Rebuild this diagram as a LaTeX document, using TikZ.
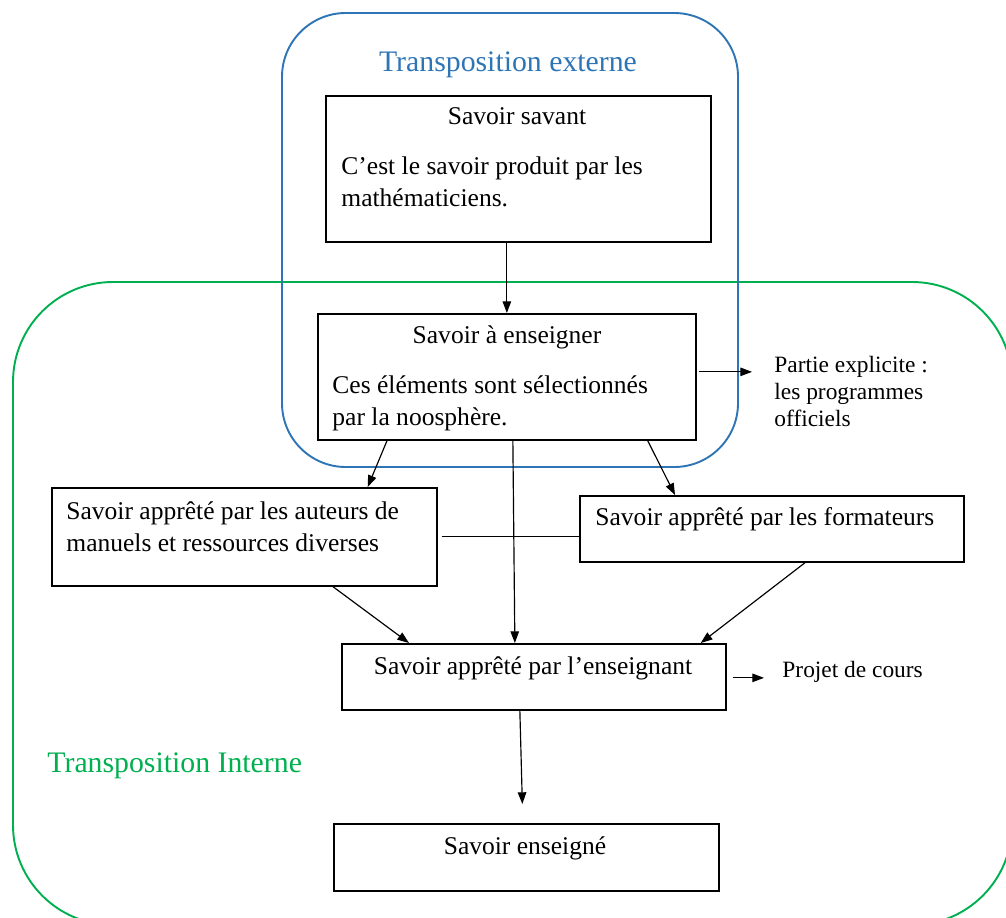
\documentclass[tikz,border=0pt]{standalone}
\usepackage{fontspec}
\setmainfont{Liberation Serif}
\usetikzlibrary{arrows.meta,calc,positioning}
\newlength{\pxu}
\setlength{\pxu}{0.47pt}
\definecolor{extblue}{HTML}{2E75B6}
\definecolor{intgreen}{HTML}{00B050}
\tikzset{
  box/.style={draw, line width=0.8pt, anchor=north west, inner sep=0pt},
  txt/.style={inner sep=0pt, font=\fontsize{12}{15}\selectfont},
  sidetxt/.style={inner sep=0pt, font=\fontsize{11}{12.7}\selectfont},
  title/.style={inner sep=0pt, font=\fontsize{14}{16}\selectfont},
  arr/.style={-{Triangle[length=5.5pt,width=4pt]}, line width=0.55pt},
  zone/.style={line width=0.9pt, rounded corners=#1},
}
\begin{document}
\begin{tikzpicture}[x=0.47pt, y=-0.47pt]
  \clip (0,0) rectangle (1006,917);

  \draw[zone=47pt, intgreen] (13,282) rectangle (1012,925);
  \draw[zone=30pt, extblue] (282,13) rectangle (738,467);

  \node[title, text=extblue, anchor=base] (ext) at (508,72) {Transposition externe};
  \node[title, text=intgreen, anchor=base west] (int) at (47,772) {Transposition Interne};

  \node[box, minimum width=385\pxu, minimum height=146\pxu] (savant) at (325,95) {};
  \node[txt, anchor=base] (savantT) at (517,125) {Savoir savant};
  \node[txt, anchor=north west, align=left] (savantD) at (341,156)
    {C’est le savoir produit par les\\mathématiciens.};

  \node[box, minimum width=378\pxu, minimum height=126\pxu] (aens) at (317,313) {};
  \node[txt, anchor=base] (aensT) at (507,343) {Savoir à enseigner};
  \node[txt, anchor=north west, align=left] (aensD) at (332,375)
    {Ces éléments sont sélectionnés\\par la noosphère.};

  \node[sidetxt, anchor=north west, align=left] (partie) at (774,356)
    {Partie explicite :\\les programmes\\officiels};

  \node[box, minimum width=385\pxu, minimum height=98\pxu] (auteurs) at (51,487) {};
  \node[txt, anchor=north west, align=left] (auteursD) at (66,501)
    {Savoir apprêté par les auteurs de\\manuels et ressources diverses};

  \node[box, minimum width=384\pxu, minimum height=66\pxu] (formateurs) at (579,495) {};
  \node[txt, anchor=base west] (formateursT) at (595,525) {Savoir apprêté par les formateurs};

  \node[box, minimum width=384\pxu, minimum height=66\pxu] (ensgt) at (341,643) {};
  \node[txt, anchor=base] (ensgtT) at (533,674) {Savoir apprêté par l’enseignant};

  \node[sidetxt, anchor=base west] (projet) at (782,677) {Projet de cours};

  \node[box, minimum width=385\pxu, minimum height=67\pxu] (enseigne) at (333,823) {};
  \node[txt, anchor=base] (enseigneT) at (525,854) {Savoir enseigné};

  \draw[arr] (aens.north |- savant.south) -- (aens.north);
  \draw[arr] ($(aens.east)+(2,-5)$) -- ($(aens.east -| partie.west)+(-22,-5)$);
  \draw[arr] ($(aens.south west)+(70,0)$) -- ($(auteurs.north east)+(-70,0)$);
  \draw[arr] ($(aens.south east)+(-49,0)$) -- ($(formateurs.north west)+(96,0)$);
  \draw[arr] ($(aens.south)+(6,0)$) -- ($(ensgt.north)+(-19,0)$);
  \draw[line width=0.55pt] ($(auteurs.east)+(4,0)$) -- (auteurs.east -| formateurs.west);
  \draw[arr] ($(auteurs.south west)+(282,0)$) -- ($(ensgt.north west)+(68,0)$);
  \draw[arr] ($(formateurs.south west)+(226,0)$) -- ($(ensgt.north east)+(-26,0)$);
  \draw[arr] ($(ensgt.east)+(6,1)$) -- ($(ensgt.east -| projet.west)+(-18,1)$);
  \draw[arr] ($(ensgt.south)+(-14,0)$) -- ($(enseigne.north)+(-4,-19)$);
\end{tikzpicture}
\end{document}
